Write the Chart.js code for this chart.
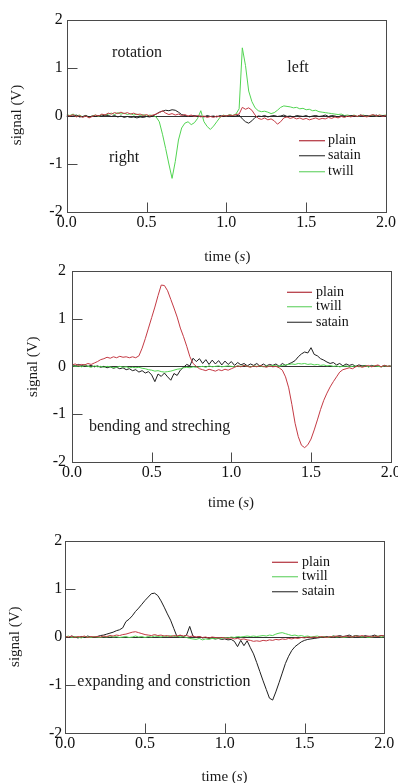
<!DOCTYPE html>
<html><head><meta charset="utf-8">
<script src="https://cdn.jsdelivr.net/npm/chart.js@4.4.0/dist/chart.umd.min.js"></script>
<style>
html,body{margin:0;padding:0;background:#fff;width:398px;height:783px;overflow:hidden;position:relative}
canvas{position:absolute;left:0}
</style></head><body>
<canvas id="c1" width="410" height="265" style="top:0px"></canvas>
<canvas id="c2" width="410" height="270" style="top:250px"></canvas>
<canvas id="c3" width="410" height="268" style="top:515px"></canvas>
<script>
// ---------- DATA ----------
const times = [0,0.02,0.04,0.06,0.08,0.1,0.12,0.14,0.16,0.18,
0.2,0.22,0.24,0.26,0.28,0.3,0.32,0.34,0.36,0.38,
0.4,0.42,0.44,0.46,0.48,0.5,0.52,0.54,0.56,0.58,
0.6,0.62,0.64,0.66,0.68,0.7,0.72,0.74,0.76,0.78,
0.8,0.82,0.84,0.86,0.88,0.9,0.92,0.94,0.96,0.98,
1.0,1.02,1.04,1.06,1.08,1.1,1.12,1.14,1.16,1.18,
1.2,1.22,1.24,1.26,1.28,1.3,1.32,1.34,1.36,1.38,
1.4,1.42,1.44,1.46,1.48,1.5,1.52,1.54,1.56,1.58,
1.6,1.62,1.64,1.66,1.68,1.7,1.72,1.74,1.76,1.78,
1.8,1.82,1.84,1.86,1.88,1.9,1.92,1.94,1.96,1.98,2.0];
const xTickValues = [0, 0.5, 1.0, 1.5, 2.0];
const yTickValues = [-2, -1, 0, 1, 2];
const seriesNames = ['plain', 'twill', 'satain'];

// panel 1: rotation
const rotationPlain = [0.02,0.00,0.03,-0.02,0.01,-0.03,0.00,-0.04,-0.01,0.02,
0.00,0.04,0.02,0.06,0.04,0.07,0.05,0.08,0.05,0.07,
0.04,0.06,0.03,0.04,0.01,0.03,0.00,0.02,0.04,0.07,
0.11,0.06,0.03,0.05,0.02,0.04,0.01,0.03,0.00,0.02,
-0.01,0.01,-0.02,0.00,-0.03,-0.01,-0.03,0.00,-0.02,0.01,
0.00,0.02,0.01,0.03,0.04,0.18,0.14,0.17,0.12,0.02,
-0.05,-0.07,-0.04,-0.08,-0.06,-0.10,-0.17,-0.12,-0.04,-0.02,
-0.05,-0.03,-0.06,-0.04,-0.07,-0.05,-0.08,-0.06,-0.04,-0.07,
-0.05,-0.06,-0.03,-0.05,-0.02,-0.04,-0.01,-0.03,0.00,-0.02,
0.01,-0.01,0.02,0.00,-0.02,0.01,0.03,0.00,0.02,-0.01,0.01];
const rotationSatain = [0.01,-0.01,0.00,0.02,-0.02,-0.01,0.01,-0.02,0.00,-0.01,
0.01,0.00,0.02,0.01,-0.01,0.01,-0.02,0.00,-0.03,-0.01,
-0.03,-0.02,-0.04,-0.02,-0.03,-0.01,-0.02,0.00,0.04,0.08,
0.10,0.12,0.11,0.13,0.12,0.08,0.03,0.01,-0.01,0.00,
0.01,-0.01,0.00,-0.02,0.01,-0.01,0.00,-0.02,0.01,-0.01,
0.00,0.01,-0.01,0.00,0.02,-0.06,-0.12,-0.15,-0.10,-0.03,
0.00,-0.01,0.01,-0.02,0.00,0.01,-0.01,0.00,0.02,-0.01,
0.00,-0.02,0.01,0.00,-0.01,0.01,-0.02,0.00,0.01,-0.01,
0.00,0.02,-0.01,0.01,0.00,-0.02,0.01,0.00,-0.01,0.01,
0.00,-0.01,0.02,0.00,0.01,-0.01,0.00,0.02,-0.01,0.01,0.00];
const rotationTwill = [0.03,0.01,0.04,0.00,0.02,-0.02,0.01,-0.03,0.00,0.02,
-0.01,0.03,0.01,0.04,0.06,0.03,0.07,0.04,0.06,0.03,
0.05,0.02,0.04,0.01,0.03,0.00,0.02,0.01,-0.02,-0.12,
-0.38,-0.68,-1.00,-1.30,-0.95,-0.50,-0.25,-0.15,-0.12,-0.18,
-0.14,-0.05,0.11,-0.12,-0.22,-0.28,-0.21,-0.12,-0.03,0.02,
0.00,0.03,0.01,0.04,0.15,1.42,1.05,0.52,0.30,0.17,
0.11,0.09,0.10,0.08,0.05,0.07,0.12,0.18,0.21,0.20,
0.19,0.17,0.18,0.15,0.16,0.13,0.14,0.11,0.12,0.09,
0.08,0.07,0.06,0.05,0.04,0.03,0.04,0.01,0.02,0.00,
0.02,-0.01,0.01,0.02,-0.01,0.01,0.02,0.00,0.02,0.01,0.02];

// panel 2: bending and streching
const bendingPlain = [0.03,0.05,0.02,0.04,0.03,0.06,0.04,0.07,0.10,0.14,
0.16,0.19,0.17,0.20,0.18,0.21,0.19,0.20,0.18,0.20,
0.18,0.22,0.38,0.58,0.80,1.02,1.24,1.48,1.70,1.69,
1.58,1.40,1.22,1.03,0.80,0.62,0.42,0.20,0.06,0.00,
-0.05,-0.07,-0.09,-0.06,-0.08,-0.10,-0.07,-0.09,-0.06,-0.08,
-0.05,-0.02,0.01,-0.01,0.02,0.00,-0.02,0.01,-0.01,0.02,
0.00,-0.02,0.01,-0.01,0.00,-0.03,-0.08,-0.22,-0.45,-0.80,
-1.19,-1.47,-1.65,-1.70,-1.64,-1.52,-1.33,-1.12,-0.90,-0.71,
-0.56,-0.43,-0.32,-0.22,-0.12,-0.07,-0.05,-0.03,-0.05,-0.01,
0.01,-0.02,0.00,0.02,-0.01,0.01,0.03,-0.01,0.02,0.00,0.01];
const bendingTwill = [0.02,0.00,0.01,-0.01,0.02,0.00,-0.02,0.01,-0.01,0.00,
-0.02,0.00,-0.01,-0.03,-0.02,0.00,-0.02,-0.01,-0.03,-0.02,
-0.03,-0.02,-0.04,-0.05,-0.07,-0.08,-0.10,-0.09,-0.11,-0.12,
-0.11,-0.10,-0.08,-0.06,-0.05,-0.03,-0.02,-0.03,-0.01,-0.02,
-0.01,0.00,-0.02,0.01,-0.01,0.00,0.01,-0.01,0.00,0.01,
0.00,-0.01,0.01,0.00,0.02,0.00,-0.01,0.01,0.00,0.01,
-0.01,0.01,0.00,0.02,0.01,0.00,0.02,0.03,0.04,0.05,
0.04,0.06,0.05,0.06,0.04,0.05,0.03,0.04,0.02,0.03,
0.01,0.02,0.00,0.01,-0.01,0.00,0.01,-0.01,0.00,0.01,
-0.01,0.00,0.01,-0.01,0.00,0.01,0.00,-0.01,0.01,0.00,0.01];
const bendingSatain = [0.03,0.01,0.04,0.02,0.03,0.00,0.02,-0.01,0.01,-0.02,
0.00,-0.03,-0.01,-0.04,-0.02,-0.05,-0.03,-0.07,-0.05,-0.09,
-0.07,-0.12,-0.09,-0.14,-0.11,-0.18,-0.32,-0.16,-0.21,-0.14,
-0.22,-0.29,-0.15,-0.19,-0.08,-0.02,0.04,0.01,0.17,0.10,
0.16,0.06,0.14,0.04,0.13,0.05,0.12,0.03,0.11,0.04,
0.10,0.02,0.08,0.03,0.06,0.01,0.05,0.02,0.06,0.00,
0.05,0.01,0.04,0.02,0.05,0.00,0.06,0.02,0.05,0.08,
0.12,0.20,0.26,0.30,0.28,0.39,0.25,0.22,0.16,0.13,
0.09,0.06,0.08,0.03,0.06,0.01,0.05,0.02,0.04,0.00,
0.03,0.01,0.02,-0.01,0.02,0.00,0.01,-0.01,0.02,0.00,0.01];

// panel 3: expanding and constriction
const expandingPlain = [0.01,0.00,0.02,-0.01,0.01,0.00,0.02,-0.01,0.01,0.00,
0.01,0.00,0.02,0.01,0.03,0.02,0.04,0.03,0.05,0.06,
0.08,0.10,0.11,0.09,0.07,0.05,0.04,0.03,0.05,0.03,
0.04,0.02,0.03,0.01,0.03,0.02,0.04,0.02,0.03,0.01,
0.02,0.00,0.01,-0.01,0.00,-0.02,0.00,-0.01,-0.02,-0.01,
-0.02,-0.03,-0.02,-0.04,-0.03,-0.05,-0.04,-0.06,-0.07,-0.09,
-0.08,-0.09,-0.07,-0.08,-0.06,-0.07,-0.05,-0.06,-0.04,-0.05,
-0.03,-0.04,-0.02,-0.03,-0.01,-0.02,0.00,-0.01,0.00,-0.01,
0.01,0.00,-0.01,0.01,0.00,0.02,0.01,0.00,0.02,0.01,
0.00,0.02,0.01,0.03,0.01,0.02,0.00,0.02,0.01,0.03,0.02];
const expandingTwill = [0.00,0.02,-0.01,0.01,0.00,-0.02,0.01,0.00,-0.01,0.01,
0.00,-0.01,0.01,0.00,0.02,0.00,0.01,-0.01,0.00,0.01,
-0.01,0.00,0.02,0.00,0.01,-0.01,0.01,0.00,0.02,0.01,
0.00,0.02,0.01,0.03,0.01,0.02,0.00,0.01,-0.01,-0.03,
-0.04,-0.05,-0.03,-0.06,-0.04,-0.05,-0.03,-0.04,-0.02,-0.03,
-0.01,-0.02,0.00,-0.01,0.01,0.00,0.01,0.02,0.01,0.02,
0.01,0.02,0.03,0.02,0.04,0.03,0.06,0.08,0.09,0.07,
0.05,0.03,0.04,0.02,0.03,0.01,0.02,0.00,0.01,0.02,
0.00,0.01,-0.01,0.00,0.02,0.00,0.01,-0.01,0.00,0.01,
0.00,0.02,0.01,0.00,0.01,-0.01,0.00,0.01,0.02,0.00,0.01];
const expandingSatain = [0.01,-0.01,0.02,0.00,-0.02,0.01,-0.01,0.02,0.00,-0.01,
0.01,0.03,0.04,0.06,0.08,0.10,0.13,0.15,0.19,0.32,
0.37,0.44,0.53,0.60,0.68,0.76,0.83,0.90,0.91,0.86,
0.75,0.62,0.48,0.35,0.18,0.01,0.03,0.01,0.04,0.22,
0.02,-0.01,0.01,-0.02,-0.01,-0.03,-0.02,-0.04,-0.03,-0.05,
-0.04,-0.06,-0.05,-0.09,-0.20,-0.07,-0.18,-0.08,-0.22,-0.35,
-0.53,-0.72,-0.91,-1.09,-1.27,-1.31,-1.14,-0.95,-0.75,-0.55,
-0.40,-0.28,-0.20,-0.15,-0.10,-0.07,-0.05,-0.04,-0.03,-0.02,
-0.01,0.00,0.01,-0.01,0.02,0.01,0.03,0.01,0.02,0.04,
0.01,0.03,0.02,0.00,0.03,0.01,0.02,0.04,0.01,0.03,0.02];

// ---------- STYLE ----------
const SERIF = '"Liberation Serif", "Times New Roman", serif';
const COLORS = { plain: '#c43a44', twill: '#52d452', satain: '#1e1e1e' };
const LEGEND_COLORS = { plain: '#b8404a', twill: '#7ad87a', satain: '#505050' };
const FRAME = '#4a4a4a';

function pts(vals){ return times.map((t,i)=>({x:t, y:vals[i]})); }

function panelPlugin(cfg){
  return {
    id: 'panelDeco',
    beforeDatasetsDraw(chart){
      const {ctx, chartArea:a, scales:{y}} = chart;
      const y0 = Math.round(y.getPixelForValue(0)) + 0.5;
      ctx.save();
      ctx.strokeStyle = '#333'; ctx.lineWidth = 1;
      ctx.beginPath(); ctx.moveTo(a.left, y0); ctx.lineTo(a.right, y0); ctx.stroke();
      ctx.restore();
    },
    afterDatasetsDraw(chart){
      const {ctx, chartArea:a, scales:{x,y}} = chart;
      ctx.save();
      ctx.strokeStyle = FRAME; ctx.lineWidth = 1;
      const L = Math.round(a.left)+0.5, T = Math.round(a.top)+0.5, R = Math.round(a.right)+0.5, B = Math.round(a.bottom)+0.5;
      ctx.strokeRect(L, T, R-L, B-T);
      // inward tick marks
      ctx.beginPath();
      xTickValues.slice(1,-1).forEach(v=>{ const px = Math.round(x.getPixelForValue(v))+0.5; ctx.moveTo(px,B); ctx.lineTo(px,B-cfg.tickLen); });
      [-1,1].forEach(v=>{ const py = Math.round(y.getPixelForValue(v))+0.5; ctx.moveTo(L,py); ctx.lineTo(L+cfg.tickLen,py); });
      ctx.stroke();
      // legend
      ctx.font = '14px ' + SERIF; ctx.textBaseline = 'middle'; ctx.textAlign = 'left'; ctx.fillStyle = '#111';
      chart.data.datasets.forEach((ds)=>{
        const row = cfg.legend.rows[ds.label];
        ctx.strokeStyle = LEGEND_COLORS[ds.label]; ctx.lineWidth = 1.3;
        ctx.beginPath(); ctx.moveTo(cfg.legend.x1, row); ctx.lineTo(cfg.legend.x2, row); ctx.stroke();
        ctx.fillText(ds.label, cfg.legend.tx, row);
      });
      // notes
      ctx.font = '16px ' + SERIF; ctx.fillStyle = '#1a1a1a';
      cfg.notes.forEach(n=>{ ctx.textAlign = n.align; ctx.fillText(n.text, n.x, n.y); });
      // axis titles
      ctx.font = '15px ' + SERIF; ctx.fillStyle = '#1a1a1a'; ctx.textAlign = 'left';
      const p1 = 'time (', p2 = 's', p3 = ')';
      const w1 = ctx.measureText(p1).width;
      ctx.font = 'italic 15px ' + SERIF; const w2 = ctx.measureText(p2).width;
      ctx.font = '15px ' + SERIF; const w3 = ctx.measureText(p3).width;
      let sx = cfg.xTitle.x - (w1+w2+w3)/2;
      ctx.fillText(p1, sx, cfg.xTitle.y);
      ctx.font = 'italic 15px ' + SERIF; ctx.fillText(p2, sx+w1, cfg.xTitle.y);
      ctx.font = '15px ' + SERIF; ctx.fillText(p3, sx+w1+w2, cfg.xTitle.y);
      ctx.translate(cfg.yTitle.x, cfg.yTitle.y); ctx.rotate(-Math.PI/2);
      ctx.textAlign = 'center'; ctx.fillText('signal (V)', 0, 0);
      ctx.restore();
    }
  };
}

function makePanel(id, series, cfg){
  const datasets = series.map(s=>({
    label: s.name, data: pts(s.values), borderColor: COLORS[s.name], borderWidth: 1,
    pointRadius: 0, tension: 0, fill: false
  }));
  return new Chart(document.getElementById(id), {
    type: 'line',
    data: { datasets },
    options: {
      responsive: false, animation: false, devicePixelRatio: 1,
      layout: { padding: { top: cfg.padTop, right: cfg.padRight, left: 0, bottom: 0 } },
      plugins: { legend: { display: false }, tooltip: { enabled: false } },
      scales: {
        x: {
          type: 'linear', min: 0, max: 2,
          afterBuildTicks: s => { s.ticks = xTickValues.map(v=>({value:v})); },
          afterFit: s => { s.height = cfg.xHeight; },
          grid: { display: false, drawTicks: false }, border: { display: false },
          ticks: { font: { family: SERIF, size: 16 }, color: '#111', padding: cfg.xPad, maxRotation: 0, autoSkip: false,
                   callback: v => Number(v).toFixed(1) }
        },
        y: {
          type: 'linear', min: -2, max: 2,
          afterBuildTicks: s => { s.ticks = yTickValues.map(v=>({value:v})); },
          afterFit: s => { s.width = cfg.yWidth; },
          grid: { display: false, drawTicks: false }, border: { display: false },
          ticks: { font: { family: SERIF, size: 16 }, color: '#111', padding: cfg.yPad, autoSkip: false,
                   callback: v => String(v) }
        }
      }
    },
    plugins: [panelPlugin(cfg)]
  });
}

makePanel('c1', [
  {name:'plain', values: rotationPlain},
  {name:'satain', values: rotationSatain},
  {name:'twill', values: rotationTwill}
], {
  padTop: 20, padRight: 24, yWidth: 66.7, xHeight: 53, xPad: 1, yPad: 4, tickLen: 10,
  legend: { x1: 299, x2: 325, tx: 328, rows: { plain: 140.7, satain: 155.7, twill: 171.7 } },
  notes: [ {text:'rotation', x:137, y:52.7, align:'center'}, {text:'left', x:298, y:67.7, align:'center'}, {text:'right', x:124, y:157.3, align:'center'} ],
  xTitle: { x: 227.3, y: 257 }, yTitle: { x: 17, y: 115 }
});

makePanel('c2', [
  {name:'plain', values: bendingPlain},
  {name:'twill', values: bendingTwill},
  {name:'satain', values: bendingSatain}
], {
  padTop: 20.7, padRight: 19.3, yWidth: 72, xHeight: 58, xPad: 1, yPad: 6, tickLen: 10,
  legend: { x1: 287, x2: 312, tx: 316, rows: { plain: 42.3, twill: 56.7, satain: 72.3 } },
  notes: [ {text:'bending and streching', x:89, y:176.7, align:'left'} ],
  xTitle: { x: 231, y: 253.3 }, yTitle: { x: 33.3, y: 116.7 }
});

makePanel('c3', [
  {name:'plain', values: expandingPlain},
  {name:'twill', values: expandingTwill},
  {name:'satain', values: expandingSatain}
], {
  padTop: 25.7, padRight: 25.7, yWidth: 65.3, xHeight: 49.7, xPad: 1, yPad: 3, tickLen: 10,
  legend: { x1: 272, x2: 298, tx: 302, rows: { plain: 47.3, twill: 61.7, satain: 76.7 } },
  notes: [ {text:'expanding and constriction', x:77.3, y:166.7, align:'left'} ],
  xTitle: { x: 224.5, y: 261.7 }, yTitle: { x: 15, y: 121.7 }
});
</script>
</body></html>
